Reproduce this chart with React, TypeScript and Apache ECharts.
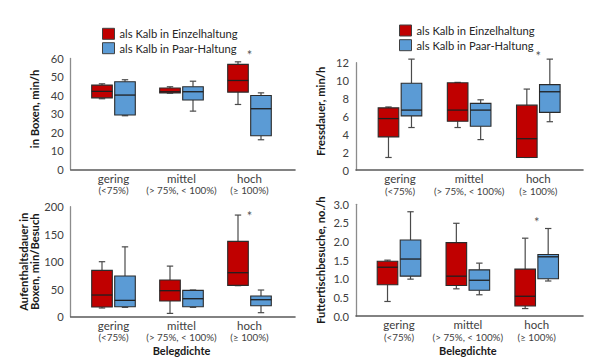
import React, { useEffect, useRef } from 'react';
import * as echarts from 'echarts';

const categories = ['gering', 'mittel', 'hoch'];
const categoryRanges = ['(<75%)', '(> 75%, < 100%)', '(≥ 100%)'];
const seriesNames = ['als Kalb in Einzelhaltung', 'als Kalb in Paar-Haltung'];

// each entry: [min, Q1, median, Q3, max] for gering, mittel, hoch
const boxenEinzel = [[38.2, 38.7, 42.2, 45.6, 46.3], [41.2, 41.4, 42.0, 44.0, 44.7], [35.1, 41.8, 48.1, 56.8, 58.2]];
const boxenPaar = [[29.0, 29.4, 40.2, 47.4, 48.5], [31.5, 37.5, 42.0, 44.7, 47.7], [16.0, 18.2, 32.8, 40.0, 41.4]];
const fressEinzel = [[1.4, 3.7, 5.75, 6.95, 7.05], [4.75, 5.45, 6.7, 9.75, 9.8], [1.4, 1.4, 3.5, 7.25, 9.05]];
const fressPaar = [[4.75, 6.05, 6.7, 9.7, 12.4], [3.4, 4.9, 6.7, 7.45, 7.85], [5.4, 6.45, 8.75, 9.55, 12.4]];
const aufenthaltEinzel = [[15.8, 17.6, 39.4, 84.2, 100], [6, 28.5, 47.3, 66.7, 92], [56.4, 57, 80, 137, 184.8]];
const aufenthaltPaar = [[17, 18.2, 29.7, 74, 127], [17, 18.2, 32.7, 47.9, 48.5], [7.3, 20, 30.9, 37.6, 48.5]];
const futterEinzel = [[0.39, 0.84, 1.31, 1.47, 1.5], [0.73, 0.82, 1.07, 1.97, 2.49], [0.2, 0.27, 0.53, 1.26, 2.09]];
const futterPaar = [[0.99, 1.07, 1.53, 2.04, 2.8], [0.57, 0.69, 0.96, 1.24, 1.42], [0.94, 1.0, 1.59, 1.65, 2.35]];

const yNames = ['in Boxen, min/h', 'Fressdauer, min/h', 'Aufenthaltsdauer in\nBoxen, min/Besuch', 'Futtertischbesuche, no./h'];
const yMaxes = [60, 12, 200, 3];
const yIntervals = [10, 2, 50, 0.5];
const yDecimals = [0, 0, 0, 1];
// significance marker (*) at "hoch", height in axis units
const starLevels = [63.6, 13.1, 189, 2.6];
const xAxisName = 'Belegdichte';

const FONT = 'Lato';
const RED = '#C00000';
const BLUE = '#5B9BD5';

const layouts = [
  { axis: { left: 70.7, top: 58.5, width: 224.3, height: 110.8 }, data: { left: 79.5, width: 204 }, nameGap: 30, namePad: [0, 0, 0, 10], xName: false },
  { axis: { left: 356, top: 62.7, width: 227, height: 107.3 }, data: { left: 365.4, width: 207.5 }, nameGap: 29.5, namePad: [0, 0, 0, 10], xName: false },
  { axis: { left: 70.7, top: 206.7, width: 224.3, height: 110 }, data: { left: 79.5, width: 204 }, nameGap: 25, namePad: 0, xName: true },
  { axis: { left: 356, top: 204.3, width: 227, height: 111.7 }, data: { left: 364.6, width: 206.5 }, nameGap: 29.5, namePad: [0, 0, 0, 0], xName: true },
];

const panelData = [
  [boxenEinzel, boxenPaar],
  [fressEinzel, fressPaar],
  [aufenthaltEinzel, aufenthaltPaar],
  [futterEinzel, futterPaar],
];

const makeRender = (offset: number, fill: string) => (params: any, api: any) => {
  const c = api.value(0);
  const cx = api.coord([c, 0])[0] + offset;
  const y = [1, 2, 3, 4, 5].map((d) => api.coord([c, api.value(d)])[1]);
  const hw = 10.3;
  const cap = 3.2;
  const wl = { stroke: '#4a4a4a', lineWidth: 1.2 };
  return {
    type: 'group',
    children: [
      { type: 'line', shape: { x1: cx, y1: y[4], x2: cx, y2: y[3] }, style: wl },
      { type: 'line', shape: { x1: cx, y1: y[1], x2: cx, y2: y[0] }, style: wl },
      { type: 'line', shape: { x1: cx - cap, y1: y[4], x2: cx + cap, y2: y[4] }, style: wl },
      { type: 'line', shape: { x1: cx - cap, y1: y[0], x2: cx + cap, y2: y[0] }, style: wl },
      { type: 'rect', shape: { x: cx - hw, y: y[3], width: 2 * hw, height: Math.max(y[1] - y[3], 0.5) }, style: { fill, stroke: '#2b2b2b', lineWidth: 1.1 } },
      { type: 'line', shape: { x1: cx - hw, y1: y[2], x2: cx + hw, y2: y[2] }, style: { stroke: '#1f1f1f', lineWidth: 1.3 } },
    ],
  };
};

function buildOption() {
  const grid: any[] = [];
  const xAxis: any[] = [];
  const yAxis: any[] = [];
  const series: any[] = [];
  layouts.forEach((L, i) => {
    const a = 2 * i;
    const d = 2 * i + 1;
    grid.push({ left: L.axis.left, top: L.axis.top, width: L.axis.width, height: L.axis.height, containLabel: false });
    grid.push({ left: L.data.left, top: L.axis.top, width: L.data.width, height: L.axis.height, containLabel: false });
    xAxis.push({
      gridIndex: a, type: 'value', min: 0, max: 1,
      axisLine: { show: true, onZero: false, lineStyle: { color: '#595959', width: 1.6 } },
      axisTick: { show: false }, axisLabel: { show: false }, splitLine: { show: false },
    });
    xAxis.push({
      gridIndex: d, type: 'category', data: categories,
      axisLine: { show: false }, axisTick: { show: false }, splitLine: { show: false },
      axisLabel: {
        interval: 0, margin: 2.5, fontFamily: FONT,
        formatter: (v: string, idx: number) => `{a|${v}}\n{b|${categoryRanges[idx]}}`,
        rich: {
          a: { fontSize: 11.5, lineHeight: 12.5, color: '#404040', fontFamily: FONT },
          b: { fontSize: 9.8, lineHeight: 11, color: '#404040', fontFamily: FONT },
        },
      },
      name: L.xName ? xAxisName : '', nameLocation: 'middle', nameGap: 28.5,
      nameTextStyle: { fontWeight: 'bold', fontSize: 11, color: '#1a1a1a', fontFamily: FONT },
    });
    yAxis.push({
      gridIndex: a, type: 'value', min: 0, max: yMaxes[i], interval: yIntervals[i],
      axisLine: { show: true, onZero: false, lineStyle: { color: '#8c8c8c', width: 1.3 } },
      axisTick: { show: false }, splitLine: { show: false },
      axisLabel: { color: '#404040', fontSize: 11.2, margin: 7, fontFamily: FONT, formatter: (v: number) => v.toFixed(yDecimals[i]) },
      name: yNames[i], nameLocation: 'middle', nameGap: L.nameGap,
      nameTextStyle: { fontWeight: 'bold', fontSize: 11.2, color: '#1a1a1a', fontFamily: FONT, padding: L.namePad, lineHeight: 11.5 },
    });
    yAxis.push({ gridIndex: d, type: 'value', min: 0, max: yMaxes[i], show: false });
    const [einzel, paar] = panelData[i];
    series.push({
      type: 'custom', name: seriesNames[0], xAxisIndex: d, yAxisIndex: d,
      data: einzel.map((v, k) => [k, ...v]), encode: { x: 0, y: [1, 2, 3, 4, 5] },
      renderItem: makeRender(-11.5, RED), itemStyle: { color: RED }, clip: false,
    });
    series.push({
      type: 'custom', name: seriesNames[1], xAxisIndex: d, yAxisIndex: d,
      data: paar.map((v, k) => [k, ...v]), encode: { x: 0, y: [1, 2, 3, 4, 5] },
      renderItem: makeRender(11.5, BLUE), itemStyle: { color: BLUE }, clip: false,
    });
    series.push({
      type: 'scatter', xAxisIndex: d, yAxisIndex: d, data: [[2, starLevels[i]]],
      symbolSize: 1, itemStyle: { color: 'rgba(0,0,0,0)' }, clip: false, silent: true,
      label: { show: true, position: 'inside', formatter: '*', fontSize: 13, color: '#262626', fontFamily: FONT, offset: [0, 3] },
    });
  });
  const legendBase = {
    orient: 'vertical', itemWidth: 12, itemHeight: 11, itemGap: 2.4, itemTextGap: 6.5, icon: 'rect',
    selectedMode: false, textStyle: { fontSize: 11.2, color: '#262626', fontFamily: FONT },
    data: [
      { name: seriesNames[0], itemStyle: { color: RED, borderColor: '#404040', borderWidth: 1 } },
      { name: seriesNames[1], itemStyle: { color: BLUE, borderColor: '#404040', borderWidth: 1 } },
    ],
  };
  return {
    animation: false,
    backgroundColor: '#ffffff',
    textStyle: { fontFamily: FONT },
    legend: [
      { ...legendBase, left: 97, top: 22.8 },
      { ...legendBase, left: 394, top: 19.5, itemGap: 2.7 },
    ],
    grid, xAxis, yAxis, series,
  };
}

export default function App() {
  const ref = useRef<HTMLDivElement>(null);
  useEffect(() => {
    if (!ref.current) return;
    const chart = echarts.init(ref.current, undefined, { renderer: 'svg' });
    chart.setOption(buildOption() as any);
    return () => chart.dispose();
  }, []);
  return <div ref={ref} style={{ position: 'fixed', left: 0, top: 0, width: 605, height: 364, background: '#fff' }} />;
}
